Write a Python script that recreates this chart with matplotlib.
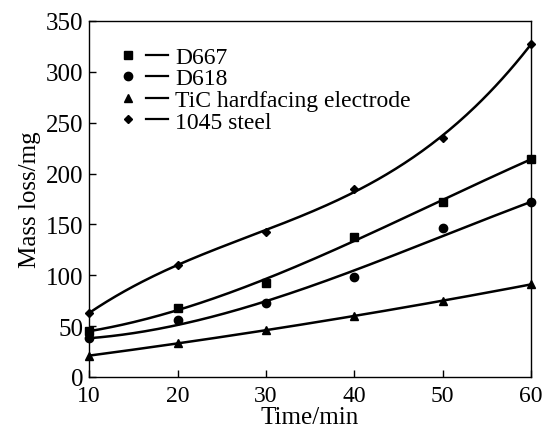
import numpy as np
import matplotlib.pyplot as plt
from matplotlib.lines import Line2D
from matplotlib.legend_handler import HandlerTuple

plt.rcParams['font.family'] = ['Liberation Serif', 'DejaVu Serif']

time = [10, 20, 30, 40, 50, 60]
d667 = [45, 68, 92, 138, 172, 214]
d618 = [38, 56, 73, 98, 146, 172]
tic = [21, 33, 46, 60, 75, 91]
steel = [63, 110, 143, 185, 235, 327]

series = [('D667', d667, 's'), ('D618', d618, 'o'),
          ('TiC hardfacing electrode', tic, '^'), ('1045 steel', steel, 'D')]

fig = plt.figure(figsize=(5.44, 4.39), dpi=100)
ax = fig.add_axes([0.164, 0.139, 0.812, 0.811])

xs = np.linspace(10, 60, 200)
w = [4, 1, 1, 1, 1, 4]  # keep the fitted curve close to the end points
handles = []
for name, vals, mk in series:
    ms = 4.5 if mk == 'D' else 6
    ax.plot(time, vals, mk, color='black', ms=ms, ls='none', clip_on=False, zorder=3)
    # smooth fitted curve, as in the original figure
    coef = np.polyfit(time, vals, 3, w=w)
    ax.plot(xs, np.polyval(coef, xs), color='black', lw=1.8)
    h_mk = Line2D([], [], marker=mk, color='black', ls='none', ms=ms)
    h_ln = Line2D([], [], color='black', lw=1.6)
    handles.append((h_mk, h_ln))

ax.legend(handles, [s[0] for s in series], handler_map={tuple: HandlerTuple(ndivide=None, pad=0.3)},
          loc='upper left', bbox_to_anchor=(0.04, 0.955), frameon=False, fontsize=17,
          handlelength=2.2, handletextpad=0.3, labelspacing=0.0, borderaxespad=0)

ax.set_xlim(10, 60)
ax.set_ylim(0, 350)
ax.set_xticks([10, 20, 30, 40, 50, 60])
ax.set_yticks(range(0, 351, 50))
ax.tick_params(direction='in', length=5, labelsize=18, width=1)
ax.tick_params(axis='x', pad=6, labelsize=17)
ax.tick_params(axis='y', pad=4)
ax.set_xlabel('Time/min', fontsize=18, labelpad=0)
ax.set_ylabel('Mass loss/mg', fontsize=18, labelpad=4)
for s in ax.spines.values():
    s.set_linewidth(1)

fig.savefig('out.png', dpi=100)
